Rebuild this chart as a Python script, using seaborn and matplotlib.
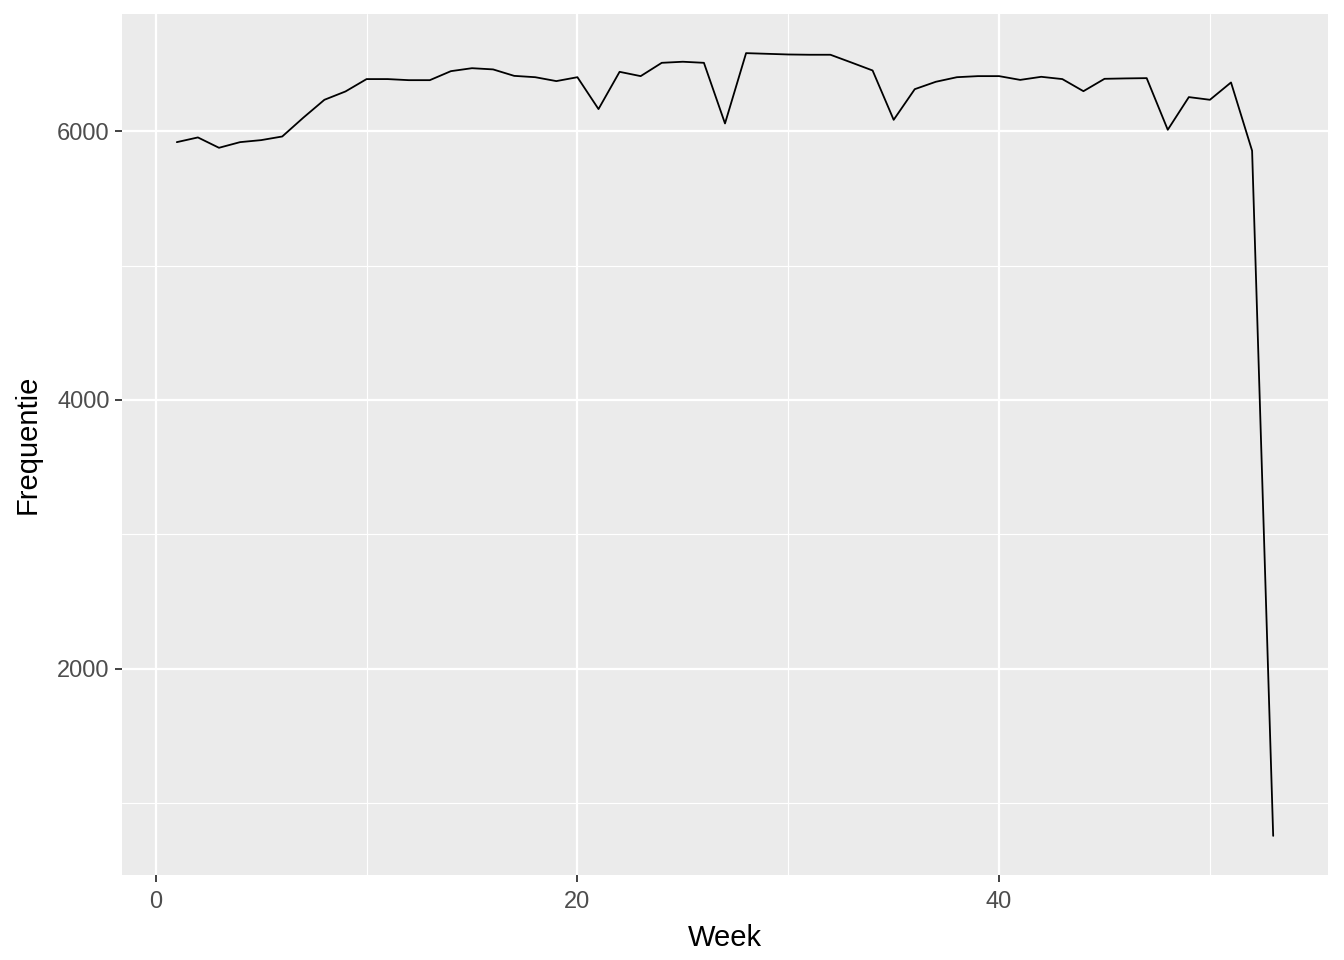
import numpy as np
import pandas as pd
import matplotlib
matplotlib.use("Agg")
import matplotlib.pyplot as plt
import seaborn as sns
from matplotlib.ticker import FixedLocator

weeks = list(range(1, 54))
frequentie = [5918, 5953, 5876, 5918, 5933, 5960, 6100, 6233, 6295, 6387,
              6387, 6379, 6379, 6446, 6468, 6459, 6411, 6401, 6372, 6401,
              6164, 6441, 6409, 6508, 6516, 6508, 6057, 6580, 6575, 6570,
              6568, 6568, 6510, 6451, 6084, 6312, 6367, 6401, 6409, 6409,
              6381, 6404, 6387, 6297, 6389, 6392, 6394, 6010, 6253, 6233,
              6362, 5854, 758]
x_breaks = [0, 20, 40]
y_breaks = [2000, 4000, 6000]

df = pd.DataFrame({"Week": weeks, "Frequentie": frequentie})

sns.set_theme(style="darkgrid")
plt.rcParams["font.family"] = ["Liberation Sans", "DejaVu Sans"]

fig = plt.figure(figsize=(13.44, 9.6), dpi=100)
ax = fig.add_axes([122/1344, 1 - 875/960, (1328-122)/1344, (875-14)/960])
ax.set_facecolor("#EBEBEB")

sns.lineplot(data=df, x="Week", y="Frequentie", ax=ax, color="black", linewidth=1.3)

xmin, xmax = min(weeks), max(weeks)
xr = xmax - xmin
ax.set_xlim(xmin - 0.05*xr, xmax + 0.05*xr)
ymin, ymax = min(frequentie), max(frequentie)
yr = ymax - ymin
ax.set_ylim(ymin - 0.05*yr, ymax + 0.05*yr)

ax.xaxis.set_major_locator(FixedLocator(x_breaks))
ax.xaxis.set_minor_locator(FixedLocator([10, 30, 50]))
ax.yaxis.set_major_locator(FixedLocator(y_breaks))
ax.yaxis.set_minor_locator(FixedLocator([1000, 3000, 5000]))

ax.grid(which="major", color="white", linewidth=1.6)
ax.grid(which="minor", color="white", linewidth=0.8)
ax.set_axisbelow(True)
for s in ax.spines.values():
    s.set_visible(False)

ax.tick_params(axis="both", which="major", length=5, width=1.3, color="#333333",
               labelsize=17, labelcolor="#4D4D4D", bottom=True, left=True)
ax.tick_params(axis="x", which="major", pad=6.5)
ax.tick_params(axis="y", which="major", pad=4)
ax.tick_params(axis="both", which="minor", length=0)

ax.set_xlabel("Week", fontsize=21, color="black", labelpad=8)
ax.set_ylabel("Frequentie", fontsize=21, color="black", labelpad=11)

fig.savefig("out.png", dpi=100, facecolor="white")
